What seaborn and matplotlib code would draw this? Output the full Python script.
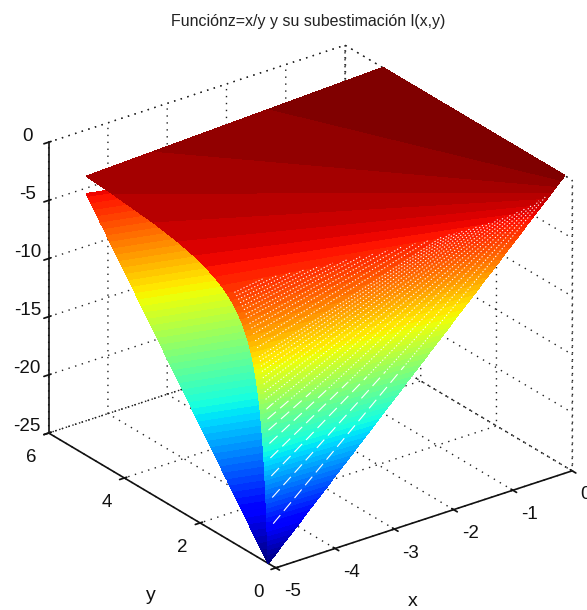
import matplotlib
matplotlib.use("Agg")
import matplotlib.pyplot as plt
import numpy as np
import seaborn as sns

# Upper surface z = x/y, drawn as constant-z colour bands
upper_z = [-25,-24.61,-24.22,-23.83,-23.44,-23.05,-22.66,-22.27,-21.88,-21.48,-21.09,-20.70,-20.31,-19.92,-19.53,-19.14,
           -18.75,-18.36,-17.97,-17.58,-17.19,-16.80,-16.41,-16.02,-15.63,-15.23,-14.84,-14.45,-14.06,-13.67,-13.28,-12.89,
           -12.50,-12.11,-11.72,-11.33,-10.94,-10.55,-10.16,-9.77,-9.38,-8.98,-8.59,-8.20,-7.81,-7.42,-7.03,-6.64,
           -6.25,-5.86,-5.47,-5.08,-4.69,-4.30,-3.91,-3.52,-3.13,-2.73,-2.34,-1.95,-1.56,-1.17,-1.00,-0.78,-0.39,0.0]
upper_near_x = [-5,-4.92,-4.84,-4.77,-4.69,-4.61,-4.53,-4.45,-4.38,-4.30,-4.22,-4.14,-4.06,-3.98,-3.91,-3.83,
                -3.75,-3.67,-3.59,-3.52,-3.44,-3.36,-3.28,-3.20,-3.13,-3.05,-2.97,-2.89,-2.81,-2.73,-2.66,-2.58,
                -2.50,-2.42,-2.34,-2.27,-2.19,-2.11,-2.03,-1.95,-1.88,-1.80,-1.72,-1.64,-1.56,-1.48,-1.41,-1.33,
                -1.25,-1.17,-1.09,-1.02,-0.94,-0.86,-0.78,-0.70,-0.63,-0.55,-0.47,-0.39,-0.31,-0.23,-0.20,-0.16,-0.08,0.0]
upper_near_y = [0.2] * 66
upper_far_x = [-5.0] * 63 + [-3.90, -1.95, 0.0]
upper_far_y = [.200,.203,.206,.210,.213,.217,.221,.225,.229,.233,.237,.242,.246,.251,.256,.261,
               .267,.272,.278,.284,.291,.298,.305,.312,.320,.328,.337,.346,.356,.366,.377,.388,
               .400,.413,.427,.441,.457,.474,.492,.512,.533,.557,.582,.610,.640,.674,.711,.753,
               .800,.853,.914,.984,1.066,1.163,1.279,1.420,1.597,1.832,2.137,2.564,3.205,4.274,5.0,5.0,5.0,5.0]

# Lower surface l(x,y): only the wedge along x = -5 shows
lower_z = [-25,-24.61,-24.22,-23.83,-23.44,-23.05,-22.66,-22.27,-21.88,-21.48,-21.09,-20.70,-20.31,-19.92,-19.53,-19.14,
           -18.75,-18.36,-17.97,-17.58,-17.19,-16.80,-16.41,-16.02,-15.63,-15.23,-14.84,-14.45,-14.06,-13.67,-13.28,-12.89,
           -12.50,-12.11,-11.72,-11.33,-10.94,-10.55,-10.16,-9.77,-9.38,-8.98,-8.59,-8.20,-7.81,-7.42,-7.03,-6.64,
           -6.25,-5.86,-5.47,-5.08,-4.69,-4.30,-3.91,-3.52,-3.13,-2.73,-2.50]
lower_near_y = [.20,.28,.37,.45,.53,.62,.70,.78,.87,.95,1.03,1.12,1.20,1.28,1.37,1.45,1.53,1.62,1.70,1.78,
                1.87,1.95,2.03,2.12,2.20,2.28,2.37,2.45,2.53,2.62,2.70,2.78,2.87,2.95,3.03,3.12,3.20,3.28,3.37,3.45,
                3.53,3.62,3.70,3.78,3.87,3.95,4.03,4.12,4.20,4.28,4.37,4.45,4.53,4.62,4.70,4.78,4.87,4.95,5.00]
lower_near_x = [-5.0] * 59
lower_far_x = [-5.00,-4.95,-4.90,-4.85,-4.80,-4.76,-4.71,-4.66,-4.61,-4.56,-4.51,-4.46,-4.41,-4.37,-4.32,-4.27,-4.22,-4.17,-4.12,-4.07,
               -4.02,-3.98,-3.93,-3.88,-3.83,-3.78,-3.73,-3.68,-3.63,-3.58,-3.54,-3.49,-3.44,-3.39,-3.34,-3.29,-3.24,-3.19,-3.14,-3.10,
               -3.05,-3.00,-2.95,-2.90,-2.85,-2.80,-2.75,-2.71,-2.66,-2.61,-2.56,-2.51,-2.46,-2.41,-2.36,-2.32,-2.27,-2.22,-2.19]
lower_far_y = [.20,.27,.33,.40,.46,.53,.59,.66,.73,.79,.86,.92,.99,1.05,1.12,1.19,1.25,1.32,1.38,1.45,
               1.51,1.58,1.65,1.71,1.78,1.84,1.91,1.97,2.04,2.11,2.17,2.24,2.30,2.37,2.43,2.50,2.57,2.63,2.70,2.76,
               2.83,2.89,2.96,3.03,3.09,3.16,3.22,3.29,3.35,3.42,3.49,3.55,3.62,3.68,3.75,3.81,3.88,3.95,3.99]

# White mesh gaps on the upper surface (constant y): dotted part
gap_y = [.225,.25,.275,.30,.325,.35,.375,.40,.425,.45,.475,.50,.525,.55,.575,.60,.65,.70,.75,.80,.85,.90,.95,1.0,1.05,1.10,1.15,1.20,1.25]
gap_x_start = [-2.7,-3.0,-3.3,-3.6,-3.9,-4.2,-4.5,-4.8,-4.9,-4.9,-4.9,-4.9,-4.9,-4.9,-4.9,-4.9,-4.9,-4.9,-4.9,-4.9,-4.9,-4.9,-4.9,-4.9,-4.9,-4.9,-4.9,-4.9,-4.9]
gap_x_end = [-.3,-.4,-.5,-.6,-.7,-.8,-.9,-1.0,-1.1,-1.2,-1.3,-1.4,-1.5,-1.6,-1.7,-1.8,-2.0,-2.2,-2.4,-2.6,-2.8,-3.0,-3.2,-3.4,-3.6,-3.8,-4.0,-4.2,-4.4]
gap_z_start = [-12,-12,-12,-12,-12,-12,-12,-12,-11.5,-10.9,-10.3,-9.8,-9.3,-8.9,-8.5,-8.2,-7.5,-7.0,-6.5,-6.1,-5.8,-5.4,-5.2,-4.9,-4.7,-4.5,-4.3,-4.1,-3.9]
gap_z_end = [-1.33,-1.6,-1.82,-2,-2.15,-2.29,-2.4,-2.5,-2.59,-2.67,-2.74,-2.8,-2.86,-2.91,-2.96,-3,-3.08,-3.14,-3.2,-3.25,-3.29,-3.33,-3.37,-3.4,-3.43,-3.45,-3.48,-3.5,-3.52]
# Dashed part of the same gaps, near the lower tip
dash_y = [.225,.25,.275,.30,.325,.35,.375,.40]
dash_x_start = [-4.9,-4.9,-4.9,-4.9,-4.9,-4.9,-4.9,-4.9]
dash_x_end = [-2.7,-3.0,-3.3,-3.6,-3.9,-4.2,-4.5,-4.8]
dash_z_start = [-21.8,-19.6,-17.8,-16.3,-15.1,-14.0,-13.1,-12.3]
dash_z_end = [-12,-12,-12,-12,-12,-12,-12,-12]

x_ticks = [-5, -4, -3, -2, -1, 0]
y_ticks = [0, 2, 4, 6]
z_ticks = [-25, -20, -15, -10, -5, 0]
title_text = "Funciónz=x/y y su subestimación l(x,y)"

sns.set_theme(style="white", rc={"grid.linestyle": (0, (1, 4)), "grid.color": "#222222", "grid.linewidth": 1.0,
                                 "axes.unicode_minus": False})
plt.rcParams["font.family"] = ["Liberation Sans", "DejaVu Sans"]
jet = matplotlib.colormaps["jet"].resampled(64)
norm = matplotlib.colors.Normalize(vmin=-25, vmax=0)

fig = plt.figure(figsize=(5.87, 6.10), dpi=100)
ax = fig.add_axes([0.0153, -0.0155, 1.0, 1.0], projection="3d", computed_zorder=False, proj_type="ortho")
ax.view_init(elev=26.16, azim=-126.6)
ax.set_box_aspect((376, 388, 330), zoom=1.028)
ax.set_xlim(-5, 0, view_margin=0)
ax.set_ylim(0, 6, view_margin=0)
ax.set_zlim(-25, 0, view_margin=0)


def strip(near_x, near_y, far_x, far_y, z, order):
    X = np.array([near_x, far_x], dtype=float)
    Y = np.array([near_y, far_y], dtype=float)
    Z = np.array([z, z], dtype=float)
    band_mid = (Z[0, :-1] + Z[0, 1:]) / 2
    colors = jet(norm(band_mid))[np.newaxis, :, :]
    ax.plot_surface(X, Y, Z, rstride=1, cstride=1, facecolors=colors,
                    linewidth=0.4, antialiased=False, shade=False, zorder=order)


strip(lower_near_x, lower_near_y, lower_far_x, lower_far_y, lower_z, 1)
strip(upper_near_x, upper_near_y, upper_far_x, upper_far_y, upper_z, 2)

for gy, xs, xe, zs, ze in zip(gap_y, gap_x_start, gap_x_end, gap_z_start, gap_z_end):
    ax.plot([xs, xe], [gy, gy], [zs, ze], color="white", lw=0.75, ls=(0, (1.2, 2.0)), zorder=3)
for gy, xs, xe, zs, ze in zip(dash_y, dash_x_start, dash_x_end, dash_z_start, dash_z_end):
    ax.plot([xs, xe], [gy, gy], [zs, ze], color="white", lw=0.8, ls=(0, (10, 5)), zorder=3)

for pane_axis in (ax.xaxis, ax.yaxis, ax.zaxis):
    pane_axis.pane.set_facecolor((1, 1, 1, 0))
    pane_axis.pane.set_edgecolor((1, 1, 1, 0))
    pane_axis.line.set_color("#111111")
    pane_axis.line.set_linewidth(1.2)

# Dotted back edges of the box
dot = dict(color="#222222", lw=1.0, ls=(0, (1, 4)), zorder=0.5)
ax.plot([-5, 0], [6, 6], [0, 0], **dot)
ax.plot([0, 0], [6, 0], [0, 0], **dot)
ax.plot([0, 0], [6, 6], [-25, 0], **dot)
ax.plot([0, 0], [0, 0], [-25, 0], **dot)
ax.plot([-5, 0], [6, 6], [-25, -25], **dot)
ax.plot([0, 0], [0, 6], [-25, -25], **dot)

ax.grid(True)
ax.set_xticks(x_ticks)
ax.set_yticks(y_ticks)
ax.set_zticks(z_ticks)
ax.tick_params(axis="x", labelsize=13.5, colors="#111111", pad=0)
ax.tick_params(axis="y", labelsize=13.5, colors="#111111", pad=1)
ax.tick_params(axis="z", labelsize=13.5, colors="#111111", pad=1)
for label in ax.get_xticklabels():
    label.set_ha("left")
for label in ax.get_yticklabels():
    label.set_ha("right")
for label in ax.get_zticklabels():
    label.set_va("baseline")
ax.set_title(title_text, fontsize=11.5, color="#222222", x=0.51, y=1.07, va="center")
fig.text(413 / 587, 1 - 602 / 610, "x", fontsize=14, color="#111111", ha="center", va="center")
fig.text(151 / 587, 1 - 595 / 610, "y", fontsize=14, color="#111111", ha="center", va="center")

fig.savefig("out.png", dpi=100)
